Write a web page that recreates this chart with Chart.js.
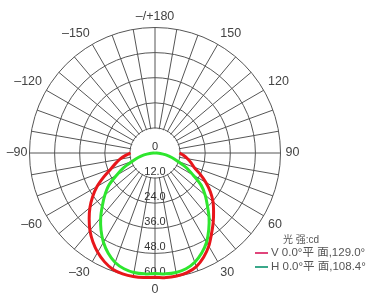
<!DOCTYPE html>
<html>
<head>
<meta charset="utf-8">
<script src="https://cdn.jsdelivr.net/npm/chart.js@4.4.1/dist/chart.umd.min.js"></script>
<style>
  html, body { margin: 0; padding: 0; background: #fff; }
  #wrap { position: relative; width: 376px; height: 297px; }
  #polar { display: block; }
  #legend {
    position: absolute; left: 255px; top: 233px;
    font: 11.5px "Liberation Sans", "Noto Sans CJK SC", sans-serif;
    color: #555; line-height: 13.4px; white-space: nowrap;
  }
  #legend .title { margin-left: 28px; font-size: 10px; }
  #legend .mark { display: inline-block; width: 13px; height: 2px; margin-right: 3px; vertical-align: middle; }
</style>
</head>
<body>
<div id="wrap">
  <canvas id="polar" width="376" height="297"></canvas>
  <div id="legend"></div>
</div>
<script>
// --- DATA ---
// angle of each spoke, clockwise from the top
const angles = [
  180, 175, 170, 165, 160, 155, 150, 145, 140, 135, 130, 125, 120, 115, 110, 105, 100, 95,
  90, 85, 80, 75, 70, 65, 60, 55, 50, 45, 40, 35, 30, 25, 20, 15, 10, 5,
  0, -5, -10, -15, -20, -25, -30, -35, -40, -45, -50, -55, -60, -65, -70, -75, -80, -85,
  -90, -95, -100, -105, -110, -115, -120, -125, -130, -135, -140, -145, -150, -155, -160, -165, -170, -175
];

// intensity (cd), V 0.0° plane
const vPlane = [
  null, null, null, null, null, null, null, null, null, null, null, null, null, null, null, null, null, null,
  11.7, 13.8, 15.8, 17.8, 19.8, 23.7, 28.0, 32.3, 36.2, 39.6, 43.3, 47.1, 51.4, 55.0, 57.8, 59.2, 59.7, 59.8,
  59.4, 59.8, 60.0, 59.8, 59.1, 57.3, 54.8, 51.8, 48.4, 44.5, 40.6, 36.4, 32.0, 27.0, 22.6, 19.6, 17.0, 14.3,
  11.7, null, null, null, null, null, null, null, null, null, null, null, null, null, null, null, null, null
];

// intensity (cd), H 0.0° plane
const hPlane = [
  null, null, null, null, null, null, null, null, null, null, null, null, null, null, null, null, null, null,
  0, 2.5, 5.3, 8.3, 11.5, 16.5, 21.0, 27.0, 31.3, 35.4, 40.2, 44.8, 49.3, 52.8, 55.6, 57.3, 58.0, 58.0,
  57.6, 58.0, 58.0, 57.3, 55.7, 52.9, 49.3, 45.0, 40.4, 35.6, 31.3, 27.0, 21.2, 16.5, 11.5, 8.3, 5.3, 2.5,
  0, null, null, null, null, null, null, null, null, null, null, null, null, null, null, null, null, null
];

const seriesNames = ["V 0.0°平 面,129.0°", "H 0.0°平 面,108.4°"];
const lineColors = ["#e8161b", "#2ee62e"];
const legendColors = ["#e0457b", "#3aa88a"];
const unitTitle = "光 强:cd";
const radialMax = 60;
const radialStep = 12;

// --- helpers ---
function angleLabel(a) {
  if (a % 30 !== 0) return "";
  if (a === 180) return "\u2013/+180";
  if (a < 0) return "\u2013" + Math.abs(a);
  return String(a);
}

// blank the hub and write the radial values down the 0° spoke
const hubPlugin = {
  id: "hub",
  beforeDatasetsDraw(chart) {
    const r = chart.scales.r;
    const ctx = chart.ctx;
    ctx.save();
    ctx.fillStyle = "#fff";
    ctx.beginPath();
    ctx.arc(r.xCenter, r.yCenter, r.getDistanceFromCenterForValue(radialStep) - 0.8, 0, Math.PI * 2);
    ctx.fill();
    ctx.fillStyle = "#333";
    ctx.font = '11px "Liberation Sans", Arial, sans-serif';
    ctx.textAlign = "center";
    ctx.textBaseline = "bottom";
    r.ticks.forEach(t => {
      const d = r.getDistanceFromCenterForValue(t.value);
      const txt = t.value === 0 ? "0" : t.value.toFixed(1);
      ctx.fillText(txt, r.xCenter, r.yCenter + d - 1);
    });
    ctx.restore();
  }
};

// --- LEGEND ---
const legend = document.getElementById("legend");
let html = `<div class="title">${unitTitle}</div>`;
seriesNames.forEach((n, i) => {
  html += `<div class="row"><span class="mark" style="background:${legendColors[i]}"></span>${n}</div>`;
});
legend.innerHTML = html;

// --- CHART ---
const ctx = document.getElementById("polar").getContext("2d");
new Chart(ctx, {
  type: "radar",
  data: {
    labels: angles,
    datasets: seriesNames.map((n, i) => ({
      label: n,
      data: i === 0 ? vPlane : hPlane,
      borderColor: lineColors[i],
      backgroundColor: "transparent",
      borderWidth: 3,
      pointRadius: 0,
      fill: false,
      tension: 0.3,
      order: i === 0 ? 1 : 0
    }))
  },
  options: {
    responsive: false,
    animation: false,
    spanGaps: false,
    layout: { padding: { left: 2, right: 70, top: 10, bottom: -4 } },
    plugins: { legend: { display: false }, tooltip: { enabled: false } },
    scales: {
      r: {
        min: 0,
        max: radialMax,
        ticks: { stepSize: radialStep, display: false },
        grid: { circular: true, color: "#555", lineWidth: 1 },
        angleLines: {
          color: "#555",
          lineWidth: c => (c.index % 2 === 0 ? 1 : 0)
        },
        pointLabels: {
          callback: v => angleLabel(v),
          color: "#444",
          padding: c => (c.index === 54 ? 2 : 5),
          font: { family: '"Liberation Sans", Arial, sans-serif', size: 12.5, lineHeight: 1 }
        }
      }
    }
  },
  plugins: [hubPlugin]
});
</script>
</body>
</html>
